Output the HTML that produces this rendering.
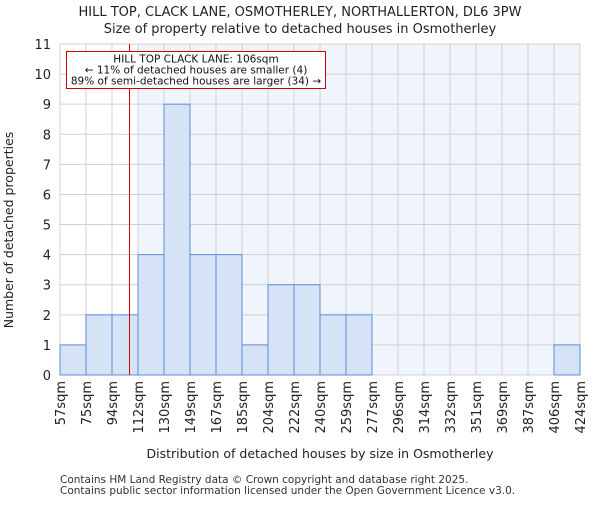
<!DOCTYPE html>
<html><head><meta charset="utf-8"><style>
body{margin:0;background:#fff;}
svg{font-family:"DejaVu Sans","Liberation Sans",sans-serif;}
</style></head><body>
<svg id="chart" width="600" height="500">
<text x="300" y="16" text-anchor="middle" font-size="13" fill="#222">HILL TOP, CLACK LANE, OSMOTHERLEY, NORTHALLERTON, DL6 3PW</text>
<text x="300" y="33" text-anchor="middle" font-size="13" fill="#222">Size of property relative to detached houses in Osmotherley</text>
<g id="plot"></g>
<text transform="translate(13,230) rotate(-90)" text-anchor="middle" font-size="12.5" fill="#222">Number of detached properties</text>
<text x="320" y="458" text-anchor="middle" font-size="12.5" fill="#222">Distribution of detached houses by size in Osmotherley</text>
<text x="60" y="483" font-size="10.5" fill="#333">Contains HM Land Registry data © Crown copyright and database right 2025.</text>
<text x="60" y="494" font-size="10.5" fill="#333">Contains public sector information licensed under the Open Government Licence v3.0.</text>
</svg>
<script>
const binLabels=["57sqm","75sqm","94sqm","112sqm","130sqm","149sqm","167sqm","185sqm","204sqm","222sqm","240sqm","259sqm","277sqm","296sqm","314sqm","332sqm","351sqm","369sqm","387sqm","406sqm","424sqm"];
const binEdges=[57,75,94,112,130,149,167,185,204,222,240,259,277,296,314,332,351,369,387,406,424];
const counts=[1,2,2,4,9,4,4,1,3,3,2,2,0,0,0,0,0,0,0,1];
const yTicks=[0,1,2,3,4,5,6,7,8,9,10,11];
const propertySize=106;
const NS="http://www.w3.org/2000/svg";
const g=document.getElementById('plot');
const L=60,R=580,T=44,B=375,yMax=11,n=counts.length;
const bw=(R-L)/n;
const xi=i=>L+i*bw;
const y=v=>B-(v/yMax)*(B-T);
function xv(v){for(let i=0;i<binEdges.length-1;i++){if(v<=binEdges[i+1])return xi(i)+(v-binEdges[i])/(binEdges[i+1]-binEdges[i])*bw;}return R;}
function mk(t,a){const e=document.createElementNS(NS,t);for(const k in a)e.setAttribute(k,a[k]);g.appendChild(e);return e;}
const px=Math.round(xv(propertySize))+0.5;
let e=mk('rect',{x:L,y:T,width:R-L,height:B-T,fill:'#f0f4fc'});


e=mk('rect',{x:L,y:T,width:xi(3)-L,height:B-T,fill:'#ffffff'});


yTicks.forEach(t=>{
 const l=mk('line',{x1:L,x2:R,y1:y(t),y2:y(t),stroke:'#d0d0d0','stroke-width':1});
 
 
 const tx=mk('text',{x:L-9,y:y(t)+5,'text-anchor':'end','font-size':13,fill:'#222'});
 tx.textContent=t;
 
 
});
for(let i=0;i<=n;i++){
 const l=mk('line',{x1:xi(i),x2:xi(i),y1:T,y2:B,stroke:'#d0d0d0','stroke-width':1});
 
 
 const tx=mk('text',{transform:`translate(${xi(i)+5},${B+6}) rotate(-90)`,'text-anchor':'end','font-size':13,fill:'#222'});
 tx.textContent=binLabels[i];
 
 
}
counts.forEach((c,i)=>{
 if(c<=0)return;
 const r=mk('rect',{x:xi(i),y:y(c),width:bw,height:B-y(c),fill:'#d6e2f5',stroke:'#5b8fd6','stroke-width':1});
 
 
});
e=mk('line',{x1:px,x2:px,y1:T,y2:B,stroke:'#dd0000','stroke-width':1});


e=mk('rect',{x:66.5,y:51.5,width:259,height:37,fill:'#fff',stroke:'#cc0000','stroke-width':1});


const lines=["HILL TOP CLACK LANE: 106sqm","← 11% of detached houses are smaller (4)","89% of semi-detached houses are larger (34) →"];
lines.forEach((s,k)=>{
 const t=mk('text',{x:196,y:62.5+k*11,'text-anchor':'middle','font-size':10.5,fill:'#111'});
 t.textContent=s;
 
 
});
</script>
</body></html>
